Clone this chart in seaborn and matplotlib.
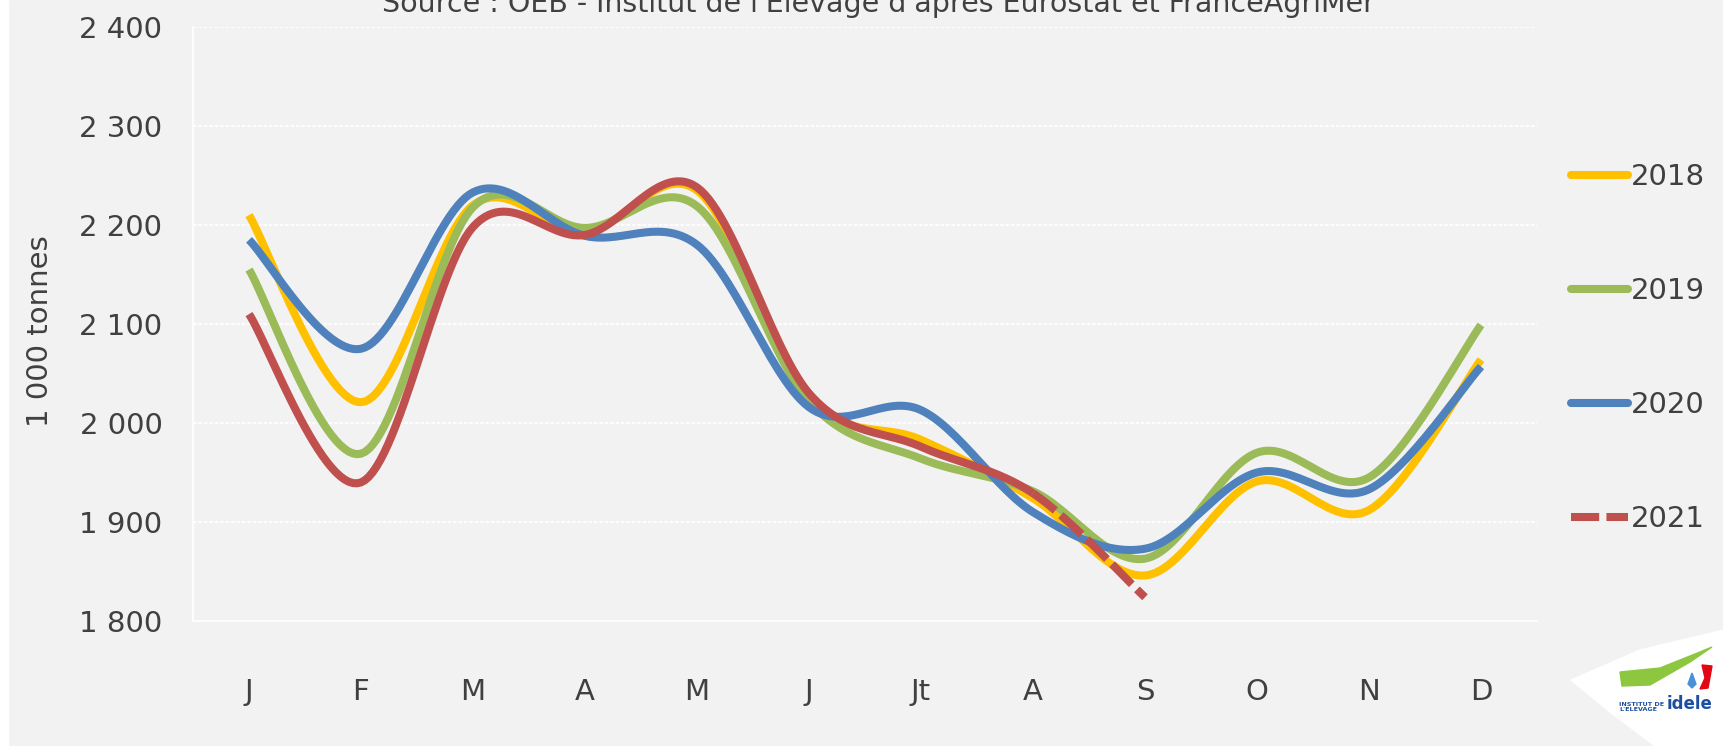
import numpy as np
import pandas as pd
import matplotlib
matplotlib.use('Agg')
import matplotlib.pyplot as plt
from matplotlib.lines import Line2D
from matplotlib.patches import Polygon, Rectangle
import seaborn as sns

# valeurs (1 000 tonnes)
mois = ['J', 'F', 'M', 'A', 'M', 'J', 'Jt', 'A', 'S', 'O', 'N', 'D']
val_2018 = [2210, 2021, 2220, 2193, 2235, 2025, 1983, 1924, 1846, 1941, 1912, 2064]
val_2019 = [2155, 1969, 2218, 2197, 2219, 2022, 1964, 1931, 1863, 1970, 1945, 2099]
val_2020 = [2185, 2075, 2233, 2189, 2180, 2016, 2013, 1910, 1873, 1950, 1933, 2057]
val_2021 = [2110, 1940, 2198, 2190, 2238, 2030, 1976, 1929, 1824]
annees = ['2018', '2019', '2020', '2021']
couleurs = ['#FFC000', '#9BBB59', '#4F81BD', '#C0504D']
yticks = [1800, 1900, 2000, 2100, 2200, 2300, 2400]
ytick_labels = ['1 800', '1 900', '2 000', '2 100', '2 200', '2 300', '2 400']


def lisse(y, n=30):
    # courbe lissée facon Excel (bezier type catmull-rom)
    y = np.asarray(y, float)
    x = np.arange(len(y), dtype=float)
    pts = np.column_stack([x, y])
    pts = np.vstack([pts[0], pts, pts[-1]])
    t = np.linspace(0, 1, n)[:, None]
    out = []
    for i in range(1, len(pts) - 2):
        p0, p1, p2, p3 = pts[i - 1], pts[i], pts[i + 1], pts[i + 2]
        c1 = p1 + (p2 - p0) / 6
        c2 = p2 - (p3 - p1) / 6
        seg = ((1 - t) ** 3) * p1 + 3 * ((1 - t) ** 2) * t * c1 + 3 * (1 - t) * t ** 2 * c2 + t ** 3 * p2
        out.append(seg if i == 1 else seg[1:])
    out = np.vstack(out)
    return out[:, 0], out[:, 1]


sns.set_style('white')
plt.rcParams['font.family'] = ['DejaVu Sans']
fond = '#F2F2F2'
gris = '#404040'
fs = 21

fig = plt.figure(figsize=(17.24, 7.46), dpi=100, facecolor=fond)
ax = fig.add_axes([193 / 1724, 1 - 621 / 746, (1537 - 193) / 1724, (621 - 27) / 746])
ax.set_facecolor(fond)

lw = 5.8
series = [val_2018, val_2019, val_2020, val_2021]
for nom, vals, c in zip(annees, series, couleurs):
    xs, ys = lisse(vals)
    df = pd.DataFrame({'x': xs, 'y': ys})
    if nom == '2021':
        # trait plein jusqu'en août, pointillé ensuite (provisoire)
        plein = df[df.x <= 7]
        tiret = df[df.x >= 7]
        sns.lineplot(data=plein, x='x', y='y', sort=False, estimator=None, color=c, lw=lw,
                     ax=ax, zorder=4)
        ax.lines[-1].set_solid_capstyle('butt')
        sns.lineplot(data=tiret, x='x', y='y', sort=False, estimator=None, color=c, lw=lw,
                     ax=ax, zorder=4)
        ax.lines[-1].set_dashes((3.5, 0.9))
        ax.lines[-1].set_dash_capstyle('butt')
    else:
        sns.lineplot(data=df, x='x', y='y', sort=False, estimator=None, color=c, lw=lw,
                     ax=ax, zorder=3)
        ax.lines[-1].set_solid_capstyle('butt')

ax.set_xlim(-0.5, 11.5)
ax.set_ylim(1800, 2400)
ax.set_xticks(range(12))
ax.set_xticklabels(mois)
ax.set_xticks(np.arange(-0.5, 12, 1), minor=True)
ax.set_yticks(yticks)
ax.set_yticklabels(ytick_labels)
ax.set_xlabel('')
ax.set_ylabel('')
ax.tick_params(axis='x', which='major', length=0, pad=41, labelsize=fs, labelcolor=gris)
ax.tick_params(axis='x', which='minor', length=7, width=1.2, color='white', direction='out')
ax.tick_params(axis='y', length=0, pad=22, labelsize=fs, labelcolor=gris)
ax.grid(False)
for yv in yticks[1:]:
    ax.axhline(yv, color='white', lw=1.3, ls=(0, (2, 1)), zorder=1)
for s in ['top', 'right']:
    ax.spines[s].set_visible(False)
for s in ['left', 'bottom']:
    ax.spines[s].set_color('white')
    ax.spines[s].set_linewidth(1.3)

fig.text(40 / 1724, 1 - 331 / 746, '1 000 tonnes', rotation=90, ha='center', va='center',
         fontsize=fs, color=gris)
fig.text(878 / 1724, 1 - 12 / 746, "Source : OEB - Institut de l'Elevage d'après Eurostat et FranceAgriMer",
         ha='center', va='baseline', fontsize=20.5, color=gris)

# légende à droite
handles = [Line2D([], [], color=c, lw=lw) for c in couleurs[:3]]
handles.append(Line2D([], [], color=couleurs[3], lw=lw, dashes=(3.5, 0.9), dash_capstyle='butt'))
leg = fig.legend(handles, annees, loc='center left', bbox_to_anchor=(1571 / 1724, 1 - 348 / 746),
                 frameon=False, fontsize=fs, handlelength=1.95, handletextpad=0.1,
                 labelspacing=2.95, borderpad=0, borderaxespad=0)
for t in leg.get_texts():
    t.set_color(gris)

# bande blanche à gauche et logo
fig.patches.append(Rectangle((0, 0), 8 / 1724, 1, transform=fig.transFigure, color='white', zorder=0))
forme = [(1571, 680), (1640, 650), (1724, 630), (1724, 746), (1655, 746), (1610, 712)]
fig.patches.append(Polygon([(x / 1724, 1 - y / 746) for x, y in forme], closed=True,
                           transform=fig.transFigure, color='white', zorder=1))
swoosh = [(1620, 672), (1660, 668), (1700, 652), (1712, 647), (1690, 662), (1650, 685), (1622, 686)]
fig.patches.append(Polygon([(x / 1724, 1 - y / 746) for x, y in swoosh], closed=True,
                           transform=fig.transFigure, color='#8DC63F', zorder=2))
rouge = [(1702, 665), (1712, 666), (1708, 688), (1700, 689), (1705, 678)]
fig.patches.append(Polygon([(x / 1724, 1 - y / 746) for x, y in rouge], closed=True,
                           transform=fig.transFigure, color='#E30613', zorder=2))
bleu = [(1692, 673), (1696, 684), (1692, 688), (1688, 684)]
fig.patches.append(Polygon([(x / 1724, 1 - y / 746) for x, y in bleu], closed=True,
                           transform=fig.transFigure, color='#4A90D9', zorder=2))
fig.text(1619 / 1724, 1 - 712 / 746, "INSTITUT DE\nL'ELEVAGE", fontsize=4.6, fontweight='bold',
         color='#1D4FA0', ha='left', va='bottom', linespacing=1.1, zorder=3)
fig.text(1667 / 1724, 1 - 713 / 746, 'idele', fontsize=12, fontweight='bold',
         color='#1D4FA0', ha='left', va='bottom', zorder=3)

plt.savefig('out.png', dpi=100, facecolor=fond)
plt.close()
